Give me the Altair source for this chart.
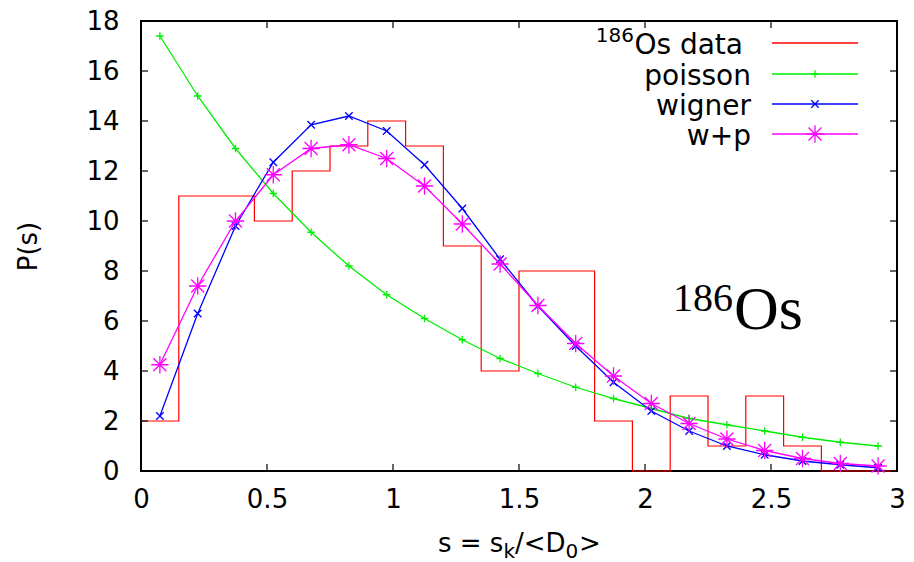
import altair as alt
import pandas as pd

# ---------------- data ----------------
s_centers = [0.075, 0.225, 0.375, 0.525, 0.675, 0.825, 0.975, 1.125, 1.275, 1.425,
             1.575, 1.725, 1.875, 2.025, 2.175, 2.325, 2.475, 2.625, 2.775, 2.925]
bin_left = [0.0, 0.15, 0.3, 0.45, 0.6, 0.75, 0.9, 1.05, 1.2, 1.35,
            1.5, 1.65, 1.8, 1.95, 2.1, 2.25, 2.4, 2.55, 2.7, 2.85, 3.0]
hist_counts = [2, 11, 11, 10, 12, 13, 14, 13, 9, 4,
               8, 8, 2, 0, 3, 1, 3, 1, 0, 0, 0]
poisson = [17.4, 15.0, 12.9, 11.1, 9.55, 8.2, 7.05, 6.1, 5.25, 4.5,
           3.9, 3.35, 2.9, 2.5, 2.1, 1.85, 1.6, 1.35, 1.15, 1.0]
wigner = [2.2, 6.3, 9.8, 12.35, 13.85, 14.2, 13.6, 12.25, 10.5, 8.47,
          6.6, 5.0, 3.55, 2.4, 1.6, 1.0, 0.65, 0.4, 0.25, 0.13]
w_plus_p = [4.25, 7.4, 10.0, 11.85, 12.9, 13.05, 12.5, 11.4, 9.88, 8.28,
            6.62, 5.1, 3.8, 2.7, 1.9, 1.28, 0.82, 0.5, 0.3, 0.2]
x_ticks = [0, 0.5, 1, 1.5, 2, 2.5, 3]
y_ticks = [0, 2, 4, 6, 8, 10, 12, 14, 16, 18]
series_names = ["poisson", "wigner", "w+p"]
series_colors = ["#00ee00", "#0000ff", "#ff00ff"]
hist_color = "#ff0000"

# ---------------- layout ----------------
W, H = 756, 450
LEFT, TOP = 141, 21
FONT = "DejaVu Sans"

PLUS = "M-1,0H1M0,-1V1"
CROSS = "M-1,-1L1,1M-1,1L1,-1"
STAR = "M-1,0H1M0,-1V1M-0.75,-0.75L0.75,0.75M-0.75,0.75L0.75,-0.75"
shapes = [PLUS, CROSS, STAR]
sizes = [56, 56, 300]

xs = alt.Scale(domain=[0, 3], nice=False, zero=False)
ys = alt.Scale(domain=[0, 18], nice=False)

hist_df = pd.DataFrame({"s": bin_left, "p": hist_counts})
curves = {"poisson": poisson, "wigner": wigner, "w+p": w_plus_p}

xaxis = alt.Axis(values=x_ticks, format="~g", ticks=False, domain=False, grid=False,
                 labelFont=FONT, labelFontSize=26, labelColor="black",
                 labelPadding=15, title=None, labelFlush=False)
yaxis = alt.Axis(values=y_ticks, format="d", ticks=False, domain=False, grid=False,
                 labelFont=FONT, labelFontSize=26, labelColor="black",
                 labelPadding=22, title="P(s)", titleFont=FONT, titleFontSize=26,
                 titleFontWeight="normal", titleColor="black",
                 titleAngle=270, titleX=28 - LEFT, titleY=H / 2,
                 titleAlign="center", titleBaseline="middle", labelFlush=False)

X = alt.X("s:Q", scale=xs, axis=xaxis)
Y = alt.Y("p:Q", scale=ys, axis=yaxis)

layers = []
layers.append(
    alt.Chart(hist_df).mark_line(interpolate="step-after", color=hist_color,
                                 strokeWidth=1.2)
    .encode(x=X, y=Y)
)

for name, col, shp, sz in zip(series_names, series_colors, shapes, sizes):
    df = pd.DataFrame({"s": s_centers, "p": curves[name]})
    base = alt.Chart(df).encode(x=X, y=Y)
    layers.append(base.mark_line(color=col, strokeWidth=1.3))
    layers.append(base.mark_point(shape=shp, size=sz, filled=False, color=col,
                                  strokeWidth=1.3, opacity=1))

# inward ticks on all four sides
xt = pd.DataFrame({"s": x_ticks})
yt = pd.DataFrame({"p": y_ticks})
tick_len = 7
layers.append(alt.Chart(xt).mark_rule(color="black", strokeWidth=1.2).encode(
    x=X, y=alt.value(H), y2=alt.value(H - tick_len)))
layers.append(alt.Chart(xt).mark_rule(color="black", strokeWidth=1.2).encode(
    x=X, y=alt.value(0), y2=alt.value(tick_len)))
layers.append(alt.Chart(yt).mark_rule(color="black", strokeWidth=1.2).encode(
    y=Y, x=alt.value(0), x2=alt.value(tick_len)))
layers.append(alt.Chart(yt).mark_rule(color="black", strokeWidth=1.2).encode(
    y=Y, x=alt.value(W), x2=alt.value(W - tick_len)))

# ---------------- legend (manual, gnuplot style) ----------------
one = pd.DataFrame({"k": [0]})
row_y = [22, 53, 83, 113]
lx1, lx2, lsym, ltext = 631, 717, 674, 610
LEG_FS = 28
leg_colors = [hist_color] + series_colors
leg_labels = ["Os data"] + series_names
for i, (lab, col) in enumerate(zip(leg_labels, leg_colors)):
    layers.append(alt.Chart(one).mark_rule(color=col, strokeWidth=1.3).encode(
        x=alt.value(lx1), x2=alt.value(lx2), y=alt.value(row_y[i])))
    tx = ltext if i > 0 else ltext - 8
    layers.append(alt.Chart(one).mark_text(text=lab, font=FONT, fontSize=LEG_FS,
                                           align="right", baseline="alphabetic",
                                           color="black").encode(
        x=alt.value(tx), y=alt.value(row_y[i] + 11)))
    if i > 0:
        layers.append(alt.Chart(one).mark_point(shape=shapes[i - 1], size=sizes[i - 1],
                                                filled=False, color=col, strokeWidth=1.3,
                                                opacity=1).encode(
            x=alt.value(lsym), y=alt.value(row_y[i])))
# superscript mass number in legend
layers.append(alt.Chart(one).mark_text(text="186", font=FONT, fontSize=20,
                                       align="right", baseline="alphabetic",
                                       color="black").encode(
    x=alt.value(ltext - 8 - 109), y=alt.value(row_y[0] - 1)))

# ---------------- 186Os annotation ----------------
layers.append(alt.Chart(one).mark_text(text="186", font="Liberation Serif", fontSize=40,
                                       align="left", baseline="alphabetic",
                                       color="black").encode(
    x=alt.value(673 - LEFT), y=alt.value(311 - TOP)))
layers.append(alt.Chart(one).mark_text(text="Os", font="Liberation Serif", fontSize=62,
                                       align="left", baseline="alphabetic",
                                       color="black").encode(
    x=alt.value(734 - LEFT), y=alt.value(329 - TOP)))

# ---------------- x title with subscripts ----------------
main_base = 552 - TOP
sub_base = 558 - TOP
title_parts = [("s = s", 438, 26, main_base), ("k", 503.5, 20, sub_base),
               ("/<D", 515, 26, main_base), ("0", 565.5, 20, sub_base),
               (">", 579, 26, main_base)]
for txt, lx, fs, by in title_parts:
    layers.append(alt.Chart(one).mark_text(text=txt, font=FONT, fontSize=fs,
                                           align="left", baseline="alphabetic",
                                           color="black").encode(
        x=alt.value(lx - LEFT), y=alt.value(by)))

chart = alt.layer(*layers).properties(
    width=W, height=H,
    autosize=alt.AutoSizeParams(type="none"),
    padding={"left": LEFT, "top": TOP, "right": 914 - LEFT - W, "bottom": 562 - TOP - H},
    background="white",
).configure_view(stroke="black", strokeWidth=2)

chart.save("out.html", embed_options={"renderer": "svg", "actions": False})
